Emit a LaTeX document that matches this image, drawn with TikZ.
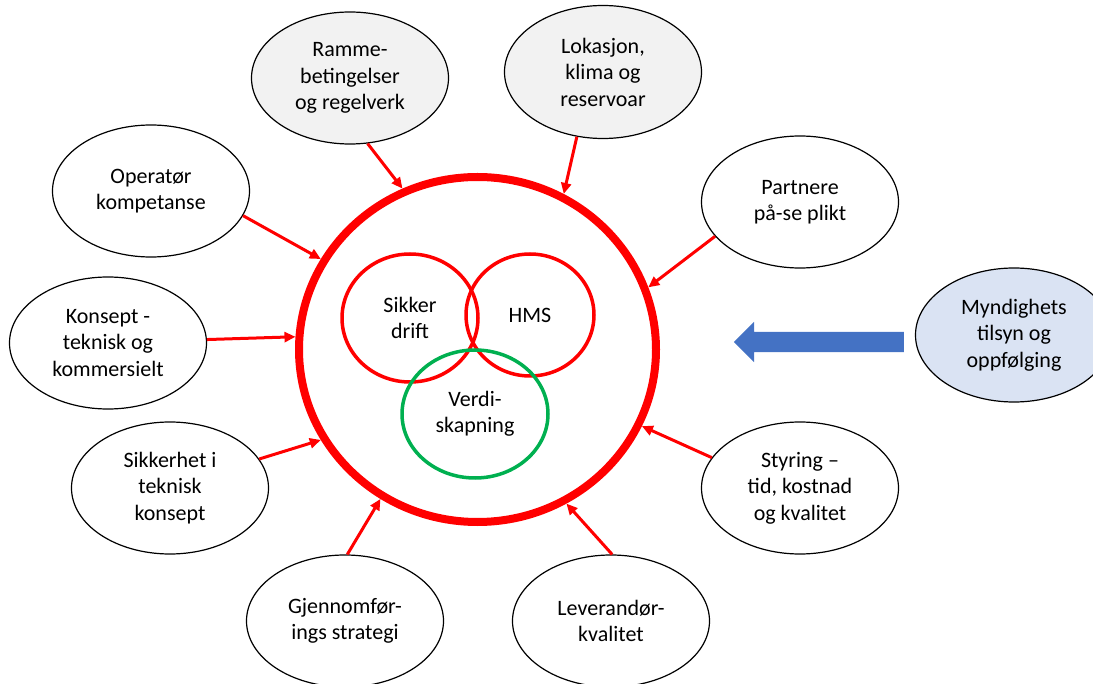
\documentclass[tikz,border=0pt]{standalone}
\usepackage{fontspec}
\setmainfont{Carlito}
\usetikzlibrary{shapes.geometric,shapes.arrows,arrows.meta}
\definecolor{ringred}{HTML}{FF0000}
\definecolor{valuegreen}{HTML}{00B050}
\definecolor{framegray}{HTML}{F2F2F2}
\definecolor{authblue}{HTML}{DAE3F3}
\definecolor{pushblue}{HTML}{4472C4}

\begin{document}
\begin{tikzpicture}[x=1pt, y=-1pt,
    font=\fontsize{22}{26.5}\selectfont,
    bubble/.style={draw, ellipse, line width=1.2pt, fill=white, minimum width=197pt, minimum height=132pt, inner sep=0pt, align=center},
    ring/.style={draw=ringred, ellipse, line width=3.5pt, inner sep=0pt, align=center},
    feed/.style={draw=ringred, line width=3pt, -{Triangle[length=11pt,width=10pt]}}]
            \useasboundingbox (0,0) rectangle (1093,684);

            \node[draw=ringred, ellipse, line width=8pt, minimum width=357pt, minimum height=345pt, inner sep=0pt] (core) at (477.5,349.5) {};

            \node[ring, minimum width=136pt, minimum height=128pt] (drift) at (410,318) {Sikker\\drift};
            \node[ring, minimum width=128pt, minimum height=122pt] (hms) at (530,315) {HMS};
            \node[ring, draw=valuegreen, minimum width=146pt, minimum height=128pt] (verdi) at (475,414) {Verdi-\\skapning};

            \node[bubble, fill=framegray] (ramme) at (350,78) {Ramme-\\betingelser\\og regelverk};
            \node[bubble, fill=framegray, minimum height=133pt] (lokasjon) at (603,72) {Lokasjon,\\klima og\\reservoar};
            \node[bubble] (operator) at (151,191) {Operatør\\kompetanse};
            \node[bubble] (partnere) at (800,202) {Partnere\\på-se plikt};
            \node[bubble] (konsept) at (108,343) {Konsept -\\teknisk og\\kommersielt};
            \node[bubble, fill=authblue, minimum height=134pt] (tilsyn) at (1014,335) {Myndighets\\tilsyn og\\oppfølging};
            \node[bubble] (sikkerhet) at (170,488) {Sikkerhet i\\teknisk\\konsept};
            \node[bubble] (styring) at (800,488) {Styring –\\tid, kostnad\\og kvalitet};
            \node[bubble] (gjennom) at (345,621) {Gjennomfør-\\ings strategi};
            \node[bubble] (leverandor) at (611,621) {Leverandør-\\kvalitet};

            \node[single arrow, shape border rotate=180, fill=pushblue, minimum height=170pt,
                inner xsep=0pt, inner ysep=10pt, single arrow head extend=10pt, single arrow tip angle=90] (push) at (824,342) {};

            \draw[feed] (ramme.-75.6) -- (core.115.8);
            \draw[feed] (lokasjon.248.6) -- (core.61.8);
            \draw[feed] (operator.-15.5) -- (core.150.9);
            \draw[feed] (partnere.202.9) -- (core.20.2);
            \draw[feed] (konsept.2.3) -- (core.176.5);
            \draw[feed] (sikkerhet.18.2) -- (core.210.4);
            \draw[feed] (styring.161) -- (core.-25.1);
            \draw[feed] (gjennom.88.3) -- (core.237);
            \draw[feed] (leverandor.89) -- (core.-60.3);
        \end{tikzpicture}
\end{document}
